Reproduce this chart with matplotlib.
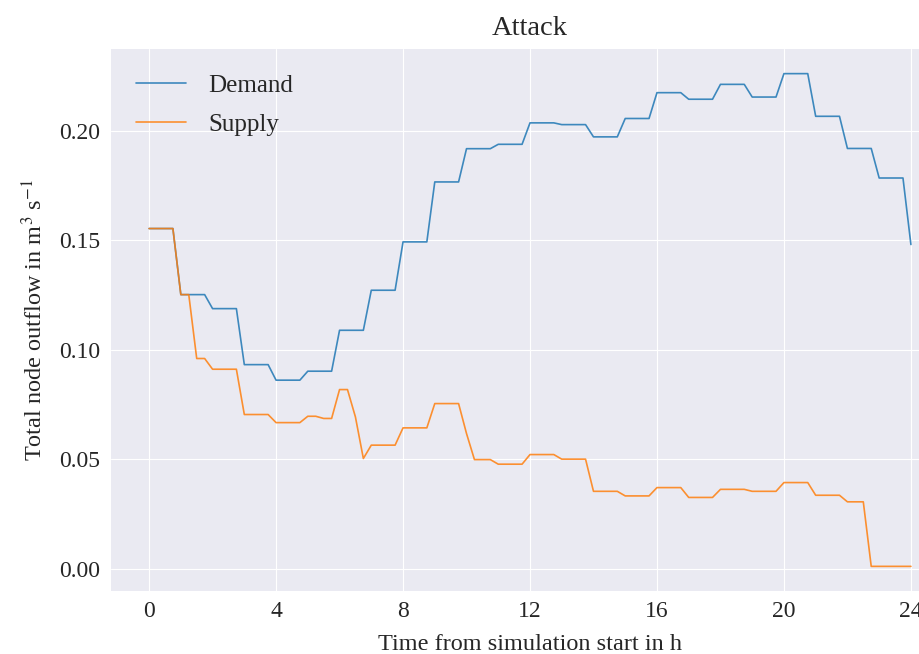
import numpy as np
import matplotlib
matplotlib.use("Agg")
import matplotlib.pyplot as plt

# quarter-hour samples over the 24 h simulation
time_h = np.arange(0, 24.25, 0.25)

# total node outflow in m^3/s, one row per hour (4 samples each)
demand = [
    0.1554, 0.1554, 0.1554, 0.1554,
    0.1252, 0.1252, 0.1252, 0.1252,
    0.1188, 0.1188, 0.1188, 0.1188,
    0.0932, 0.0932, 0.0932, 0.0932,
    0.0861, 0.0861, 0.0861, 0.0861,
    0.0902, 0.0902, 0.0902, 0.0902,
    0.1089, 0.1089, 0.1089, 0.1089,
    0.1272, 0.1272, 0.1272, 0.1272,
    0.1493, 0.1493, 0.1493, 0.1493,
    0.1767, 0.1767, 0.1767, 0.1767,
    0.1919, 0.1919, 0.1919, 0.1919,
    0.1939, 0.1939, 0.1939, 0.1939,
    0.2037, 0.2037, 0.2037, 0.2037,
    0.2029, 0.2029, 0.2029, 0.2029,
    0.1973, 0.1973, 0.1973, 0.1973,
    0.2057, 0.2057, 0.2057, 0.2057,
    0.2175, 0.2175, 0.2175, 0.2175,
    0.2145, 0.2145, 0.2145, 0.2145,
    0.2213, 0.2213, 0.2213, 0.2213,
    0.2155, 0.2155, 0.2155, 0.2155,
    0.2262, 0.2262, 0.2262, 0.2262,
    0.2067, 0.2067, 0.2067, 0.2067,
    0.1920, 0.1920, 0.1920, 0.1920,
    0.1785, 0.1785, 0.1785, 0.1785,
    0.1481,
]

supply = [
    0.1554, 0.1554, 0.1554, 0.1554,
    0.1252, 0.1252, 0.0960, 0.0960,
    0.0911, 0.0911, 0.0911, 0.0911,
    0.0704, 0.0704, 0.0704, 0.0704,
    0.0667, 0.0667, 0.0667, 0.0667,
    0.0696, 0.0696, 0.0686, 0.0686,
    0.0818, 0.0818, 0.0693, 0.0503,
    0.0564, 0.0564, 0.0564, 0.0564,
    0.0643, 0.0643, 0.0643, 0.0643,
    0.0754, 0.0754, 0.0754, 0.0754,
    0.0617, 0.0498, 0.0498, 0.0498,
    0.0477, 0.0477, 0.0477, 0.0477,
    0.0521, 0.0521, 0.0521, 0.0521,
    0.0500, 0.0500, 0.0500, 0.0500,
    0.0353, 0.0353, 0.0353, 0.0353,
    0.0332, 0.0332, 0.0332, 0.0332,
    0.0370, 0.0370, 0.0370, 0.0370,
    0.0325, 0.0325, 0.0325, 0.0325,
    0.0362, 0.0362, 0.0362, 0.0362,
    0.0353, 0.0353, 0.0353, 0.0353,
    0.0393, 0.0393, 0.0393, 0.0393,
    0.0335, 0.0335, 0.0335, 0.0335,
    0.0305, 0.0305, 0.0305, 0.0010,
    0.0010, 0.0010, 0.0010, 0.0010,
    0.0010,
]

xticks = [0, 4, 8, 12, 16, 20, 24]
yticks = [0.00, 0.05, 0.10, 0.15, 0.20]

plt.style.use("seaborn-v0_8-darkgrid")
plt.rcParams["font.family"] = "serif"
plt.rcParams["font.serif"] = ["Liberation Serif", "DejaVu Serif"]
plt.rcParams["mathtext.fontset"] = "stix"

fig = plt.figure(figsize=(9.2, 6.54), dpi=100)
# the axes runs past the right edge, like the cropped original
ax = fig.add_axes([111 / 920, 63 / 654, 838 / 920, 542 / 654])

ax.plot(time_h, demand, color="C0", lw=1.2, alpha=0.85, label="Demand")
ax.plot(time_h, supply, color="C1", lw=1.2, alpha=0.85, label="Supply")

ax.set_xticks(xticks)
ax.set_yticks(yticks)
ax.set_yticklabels([f"{v:.2f}" for v in yticks])
ax.tick_params(axis="both", labelsize=17, length=0, labelcolor="#262626")
ax.tick_params(axis="x", pad=7)
ax.tick_params(axis="y", pad=8)

ax.set_title("Attack", fontsize=20.5, pad=10, color="#262626")
ax.set_xlabel("Time from simulation start in h", fontsize=17.5, labelpad=9)
ax.set_ylabel(r"Total node outflow in m$^3$ s$^{-1}$", fontsize=17.5, labelpad=8)

ax.legend(loc="upper left", fontsize=18, frameon=False, labelspacing=0.68,
          borderaxespad=0.6, handletextpad=0.9)

fig.savefig("out.png", dpi=100)
